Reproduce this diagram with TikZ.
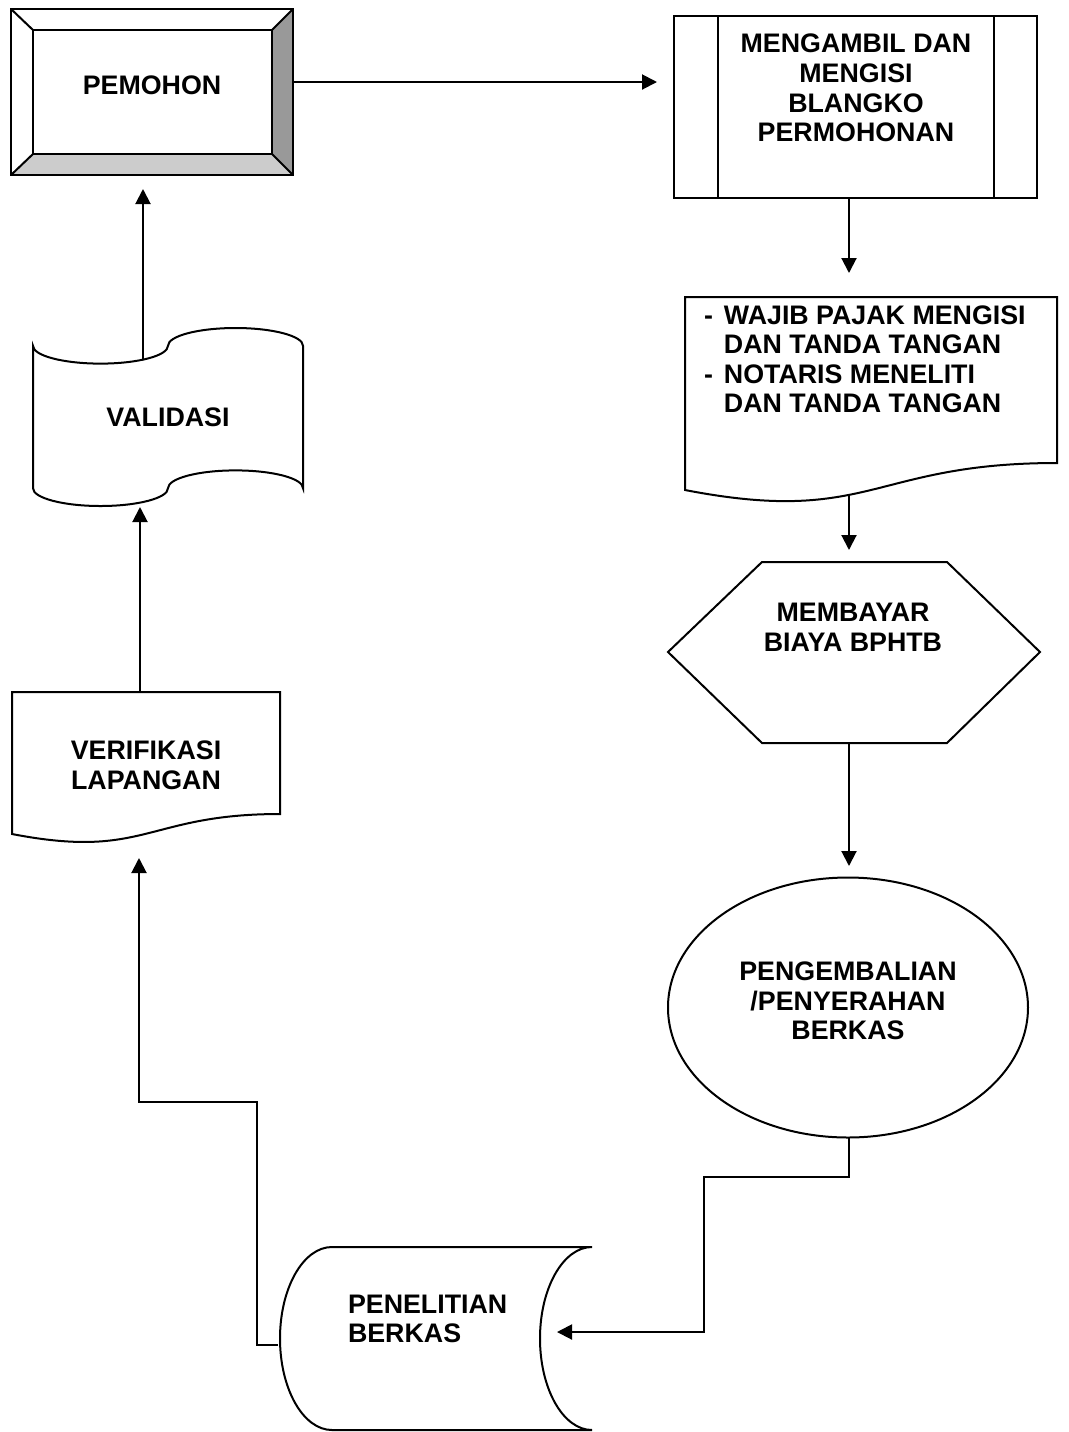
\documentclass[tikz,border=0pt]{standalone}
\usepackage{fontspec}
\setmainfont{Liberation Sans}
\usetikzlibrary{arrows.meta}
\begin{document}
\begin{tikzpicture}[x=0.5pt, y=-0.5pt, line width=1pt, line join=miter,
  lbl/.style={font=\bfseries\fontsize{13.4}{14.8}\selectfont, align=center, inner sep=0pt, text=black},
  flow/.style={draw=black, line width=1pt, -{Triangle[length=7.5pt,width=7.5pt]}},
  outline/.style={draw=black, line width=1pt, fill=white},
]
\useasboundingbox[fill=white] (0,0) rectangle (1069,1432);

% ---- PEMOHON: bevelled box ----
\fill[black!40] (293,9) -- (293,175) -- (272,154) -- (272,30) -- cycle;
\fill[black!20] (11,175) -- (293,175) -- (272,154) -- (33,154) -- cycle;
\draw (11,9) rectangle (293,175);
\draw (33,30) rectangle (272,154);
\draw (11,9) -- (33,30) (293,9) -- (272,30) (11,175) -- (33,154) (293,175) -- (272,154);
\node[lbl] (pemohon) at (152,85) {PEMOHON};

% ---- MENGAMBIL: predefined process ----
\draw[outline] (674,16) rectangle (1037,198);
\draw (718,16) -- (718,198) (994,16) -- (994,198);
\node[lbl] (ambil) at (856,88) {MENGAMBIL DAN\\MENGISI\\BLANGKO\\PERMOHONAN};

% ---- WAJIB PAJAK: document ----
\draw[outline] (685,490) -- (685,297) -- (1057,297) -- (1057,463)
  .. controls (871,463) and (871,526) .. (685,490) -- cycle;
\node[lbl, anchor=west] (wajib) at (703,362.5)
  {\begin{tabular}{@{}l@{\hspace{5.5pt}}l@{}}
   - & WAJIB PAJAK MENGISI\\
     & DAN TANDA TANGAN\\
   - & NOTARIS MENELITI\\
     & DAN TANDA TANGAN
   \end{tabular}};

% ---- MEMBAYAR: hexagon ----
\draw[outline] (668,652) -- (762,562) -- (947,562) -- (1040,652) -- (947,743) -- (762,743) -- cycle;
\node[lbl] (bayar) at (853,627) {MEMBAYAR\\BIAYA BPHTB};

% ---- PENGEMBALIAN: ellipse ----
\draw[outline] (848,1007.5) ellipse [x radius=180, y radius=130];
\node[lbl] (kembali) at (848,1001) {PENGEMBALIAN\\/PENYERAHAN\\BERKAS};

% ---- PENELITIAN: stored data ----
\draw[outline] (332,1247) -- (592,1247)
  arc[start angle=270, end angle=90, x radius=52, y radius=91.5]
  -- (332,1430)
  arc[start angle=90, end angle=270, x radius=52, y radius=91.5] -- cycle;
\node[lbl, align=left, anchor=west] (teliti) at (347,1319) {PENELITIAN\\BERKAS};

% ---- VERIFIKASI: document ----
\draw[outline] (12,834) -- (12,692) -- (280,692) -- (280,814)
  .. controls (146,814) and (146,860) .. (12,834) -- cycle;
\node[lbl] (verif) at (146,765) {VERIFIKASI\\LAPANGAN};

% ---- VALIDASI: punched tape ----
\draw[outline] (33,345.8)
  arc[start angle=180, end angle=0, x radius=67.5, y radius=17.8]
  arc[start angle=180, end angle=360, x radius=67.5, y radius=17.8]
  -- (303,488.2)
  arc[start angle=0, end angle=-180, x radius=67.5, y radius=17.8]
  arc[start angle=0, end angle=180, x radius=67.5, y radius=17.8]
  -- cycle;
\node[lbl] (valid) at (168,417) {VALIDASI};

% ---- connection points ----
\coordinate (pem-e) at (293,82);
\coordinate (pem-s) at (143,189);
\coordinate (amb-w) at (657,82);
\coordinate (amb-s) at (849,198);
\coordinate (waj-n) at (849,273);
\coordinate (waj-s) at (849,495);
\coordinate (bay-n) at (849,550);
\coordinate (bay-s) at (849,743);
\coordinate (kem-n) at (849,866);
\coordinate (kem-s) at (849,1137);
\coordinate (bend-r) at (704,1177);
\coordinate (tel-e) at (557,1332);
\coordinate (tel-w) at (278,1345);
\coordinate (bend-l) at (257,1102);
\coordinate (ver-s) at (139,858);
\coordinate (ver-n) at (140,692);
\coordinate (val-s) at (140,507);
\coordinate (val-n) at (143,359);

% ---- connectors ----
\draw[flow] (pem-e) -- (amb-w);
\draw[flow] (amb-s) -- (waj-n);
\draw[flow] (waj-s) -- (bay-n);
\draw[flow] (bay-s) -- (kem-n);
\draw[flow] (kem-s) |- (bend-r) |- (tel-e);
\draw[flow] (tel-w) -| (bend-l) -| (ver-s);
\draw[flow] (ver-n) -- (val-s);
\draw[flow] (val-n) -- (pem-s);
\end{tikzpicture}
\end{document}
